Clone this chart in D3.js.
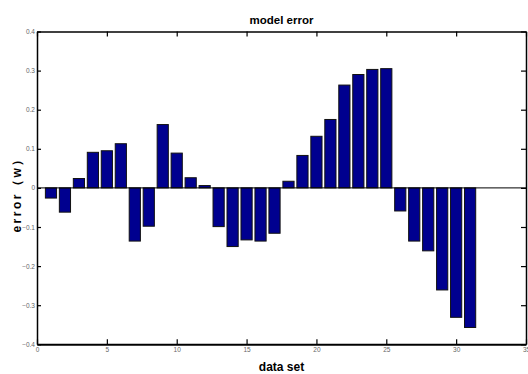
<!DOCTYPE html>
<html><head><meta charset="utf-8">
<script src="https://cdn.jsdelivr.net/npm/d3@7"></script>
<style>body{margin:0;background:#fff}svg{display:block}</style>
</head><body>
<script>
const dataSet = d3.range(1, 32);
const errorValues = [-0.026, -0.062, 0.024, 0.091, 0.095, 0.113, -0.136, -0.098, 0.162, 0.089,
  0.026, 0.006, -0.099, -0.150, -0.133, -0.136, -0.116, 0.017, 0.083, 0.132,
  0.175, 0.263, 0.290, 0.303, 0.305, -0.059, -0.136, -0.161, -0.261, -0.331, -0.357];
const xTicks = [0, 5, 10, 15, 20, 25, 30, 35];
const yTicks = [-0.4, -0.3, -0.2, -0.1, 0, 0.1, 0.2, 0.3, 0.4];
const titleText = "model error";
const xLabel = "data set";
const yLabel = "error（w）";

const W = 528, H = 374;
const L = 37, R = 526, T = 31.5, B = 344.3;
const svg = d3.select("body").append("svg").attr("width", W).attr("height", H);
const x = d3.scaleLinear().domain([0, 35]).range([L, R]);
const y = d3.scaleLinear().domain([-0.4, 0.4]).range([B, T]);
const bw = 0.8;

// bars
svg.append("g").selectAll("rect").data(dataSet).join("rect")
  .attr("x", (d) => x(d - bw / 2))
  .attr("width", x(bw) - x(0))
  .attr("y", (d, i) => y(Math.max(0, errorValues[i])))
  .attr("height", (d, i) => Math.abs(y(errorValues[i]) - y(0)))
  .attr("fill", "#00008F")
  .attr("stroke", "#111")
  .attr("stroke-width", 1);

// zero line
svg.append("line").attr("x1", L).attr("x2", R).attr("y1", y(0)).attr("y2", y(0))
  .attr("stroke", "#000").attr("stroke-width", 1);

const tickFont = "Liberation Sans, Arial, sans-serif";
// axes
const xb = svg.append("g").attr("transform", `translate(0,${B})`)
  .call(d3.axisBottom(x).tickValues(xTicks).tickSizeInner(-5).tickSizeOuter(0).tickPadding(4).tickFormat(d3.format("d")));
const xt = svg.append("g").attr("transform", `translate(0,${T})`)
  .call(d3.axisTop(x).tickValues(xTicks).tickSizeInner(-5).tickSizeOuter(0).tickFormat(""));
const yl = svg.append("g").attr("transform", `translate(${L},0)`)
  .call(d3.axisLeft(y).tickValues(yTicks).tickSizeInner(-4).tickSizeOuter(0).tickPadding(2)
    .tickFormat((d) => d === 0 ? "0" : d3.format(".1f")(d)));
const yr = svg.append("g").attr("transform", `translate(${R},0)`)
  .call(d3.axisRight(y).tickValues(yTicks).tickSizeInner(-5).tickSizeOuter(0).tickFormat(""));

[xb, xt, yl, yr].forEach((g) => {
  g.selectAll(".domain").attr("stroke", "#000").attr("stroke-width", 1.5);
  g.selectAll(".tick line").attr("stroke", "#000").attr("stroke-width", 1.2);
  g.selectAll("text").attr("fill", "#666").style("font-family", tickFont).style("font-size", "6.5px");
});
xb.selectAll(".domain").attr("stroke-width", 2);
xb.selectAll("text").attr("dy", "0.5em");

// title & labels
svg.append("text").attr("x", (L + R) / 2).attr("y", 24).attr("text-anchor", "middle")
  .style("font-family", tickFont).style("font-weight", "bold").style("font-size", "11.5px").text(titleText);
svg.append("text").attr("x", (L + R) / 2).attr("y", 371).attr("text-anchor", "middle")
  .style("font-family", tickFont).style("font-weight", "bold").style("font-size", "12px").text(xLabel);
svg.append("text").attr("transform", `translate(21,${y(0) + 4}) rotate(-90)`).attr("text-anchor", "middle")
  .style("font-family", tickFont).style("font-weight", "bold").style("font-size", "12px")
  .style("letter-spacing", "2.5px").text(yLabel);
</script>
</body></html>
